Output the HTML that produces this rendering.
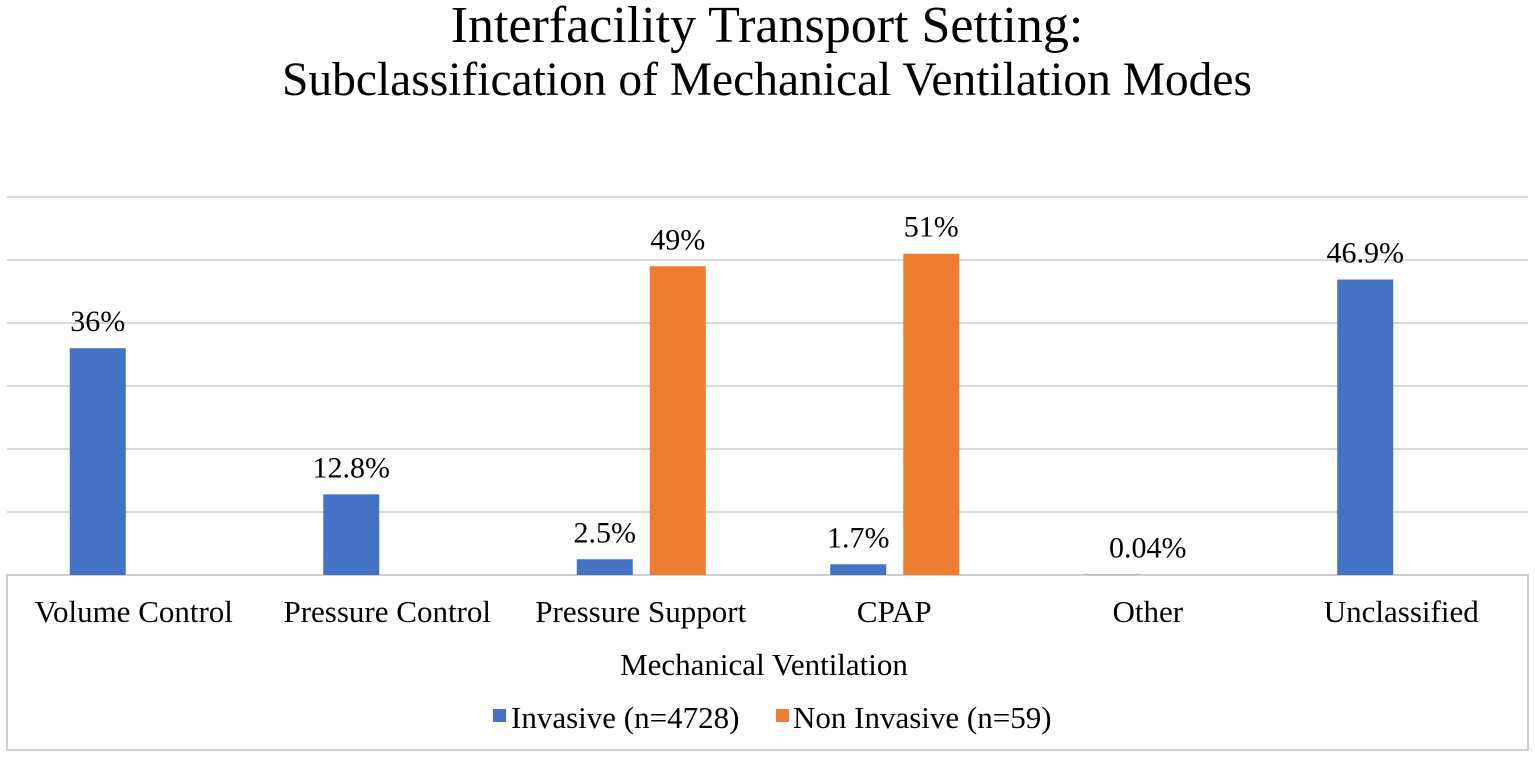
<!DOCTYPE html>
<html><head><meta charset="utf-8"><style>
html,body{margin:0;padding:0;background:#fff;}
svg{display:block;font-family:"Liberation Serif",serif;}
</style></head><body>
<svg width="1535" height="757" viewBox="0 0 1535 757">
<g id="g"></g>
<text x="767" y="42" text-anchor="middle" font-size="52">Interfacility Transport Setting:</text>
<text x="767" y="95" text-anchor="middle" font-size="47.5">Subclassification of Mechanical Ventilation Modes</text>
<text x="764" y="675" text-anchor="middle" font-size="31">Mechanical Ventilation</text>
<g>
<rect x="493" y="709" width="13" height="13" fill="#4472C4"/>
<text x="511" y="728" font-size="31">Invasive (n=4728)</text>
<rect x="776" y="709" width="13" height="13" fill="#ED7D31"/>
<text x="793" y="728" font-size="31">Non Invasive (n=59)</text>
</g>
</svg>
<script>
const categories=["Volume Control","Pressure Control","Pressure Support","CPAP","Other","Unclassified"];
const invasive=[36,12.8,2.5,1.7,0.04,46.9];
const nonInvasive=[null,null,49,51,null,null];
const invasiveLabels=["36%","12.8%","2.5%","1.7%","0.04%","46.9%"];
const nonInvasiveLabels=[null,null,"49%","51%",null,null];
const yTicks=[0,10,20,30,40,50,60];
(function(){
const NS="http://www.w3.org/2000/svg",g=document.getElementById("g");
const L=7,R=1528,B=575,T=197,maxV=60;
const y=v=>B-(v/maxV)*(B-T);
const bw=(R-L)/categories.length;
const cx=i=>L+(i+0.5)*bw;
function el(t,a){const e=document.createElementNS(NS,t);for(const k in a)e.setAttribute(k,a[k]);g.appendChild(e);return e;}
yTicks.forEach(v=>{if(v===0)return;const l=el("line",{x1:L,x2:R,y1:y(v),y2:y(v),stroke:"#d9d9d9","stroke-width":2});

});
const box=el("rect",{x:L,y:B,width:R-L,height:750-B,fill:"none",stroke:"#d0d0d0","stroke-width":2});


const W=56;
categories.forEach((c,i)=>{
 const t=el("text",{x:cx(i),y:622,"text-anchor":"middle","font-size":31});t.textContent=c;
 
 
 const bx=cx(i)-36-W/2;
 if(invasive[i]!=null){
  const v=invasive[i];
  const r=el("rect",{x:bx,y:y(v),width:W,height:B-y(v),fill:"#4472C4"});
  
  
  const lx=(nonInvasive[i]==null&&v<1)?cx(i):bx+W/2;
  const tl=el("text",{x:lx,y:y(v)-17,"text-anchor":"middle","font-size":30});tl.textContent=invasiveLabels[i];
  
  
 }
 if(nonInvasive[i]!=null){
  const v=nonInvasive[i],ox=cx(i)+37-W/2;
  const r=el("rect",{x:ox,y:y(v),width:W,height:B-y(v),fill:"#ED7D31"});
  
  
  const tl=el("text",{x:ox+W/2,y:y(v)-17,"text-anchor":"middle","font-size":30});tl.textContent=nonInvasiveLabels[i];
  
  
 }
});
})();
</script>
</body></html>
